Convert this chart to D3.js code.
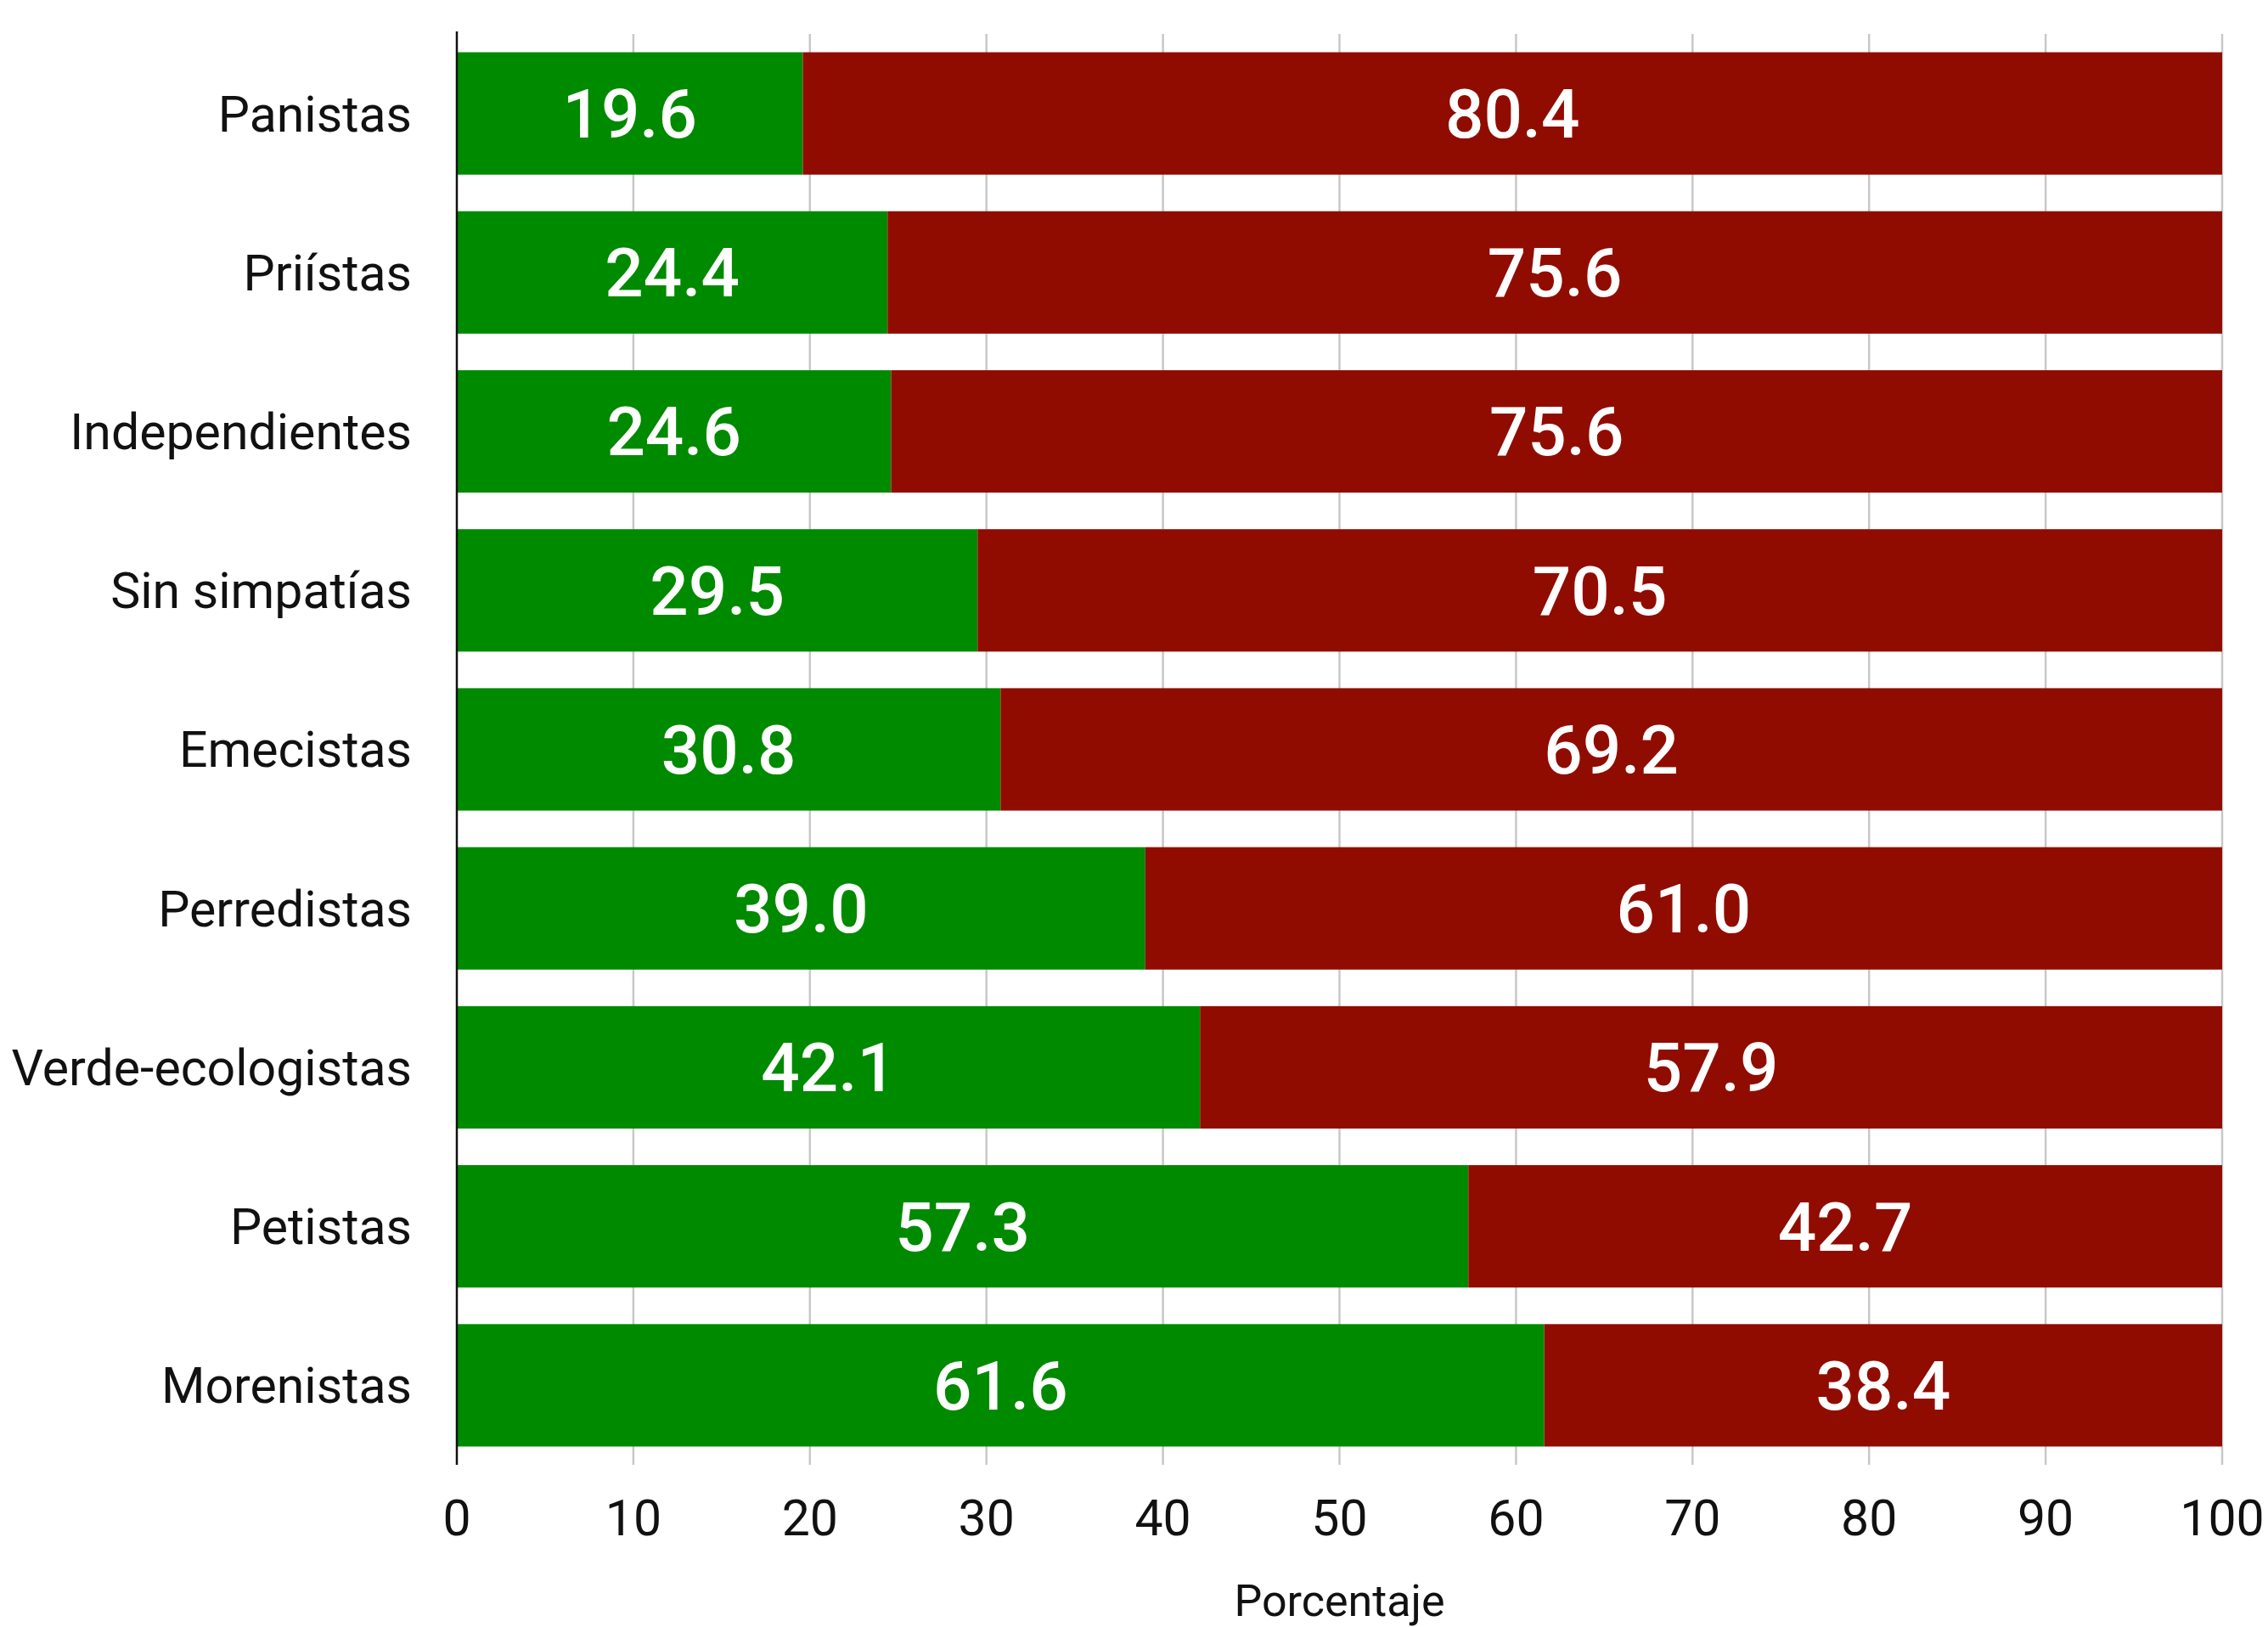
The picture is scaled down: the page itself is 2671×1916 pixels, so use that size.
<!DOCTYPE html>
<html>
<head>
<meta charset="utf-8">
<script src="https://cdn.jsdelivr.net/npm/d3@7"></script>
<style>
  html, body { margin: 0; padding: 0; background: #fff; }
  svg { display: block; font-family: Roboto, "Noto Sans", sans-serif; }
</style>
</head>
<body>
<svg id="chart" width="2671" height="1916"></svg>
<script>
const categories = ["Panistas", "Priístas", "Independientes", "Sin simpatías", "Emecistas",
  "Perredistas", "Verde-ecologistas", "Petistas", "Morenistas"];
const greenValues = [19.6, 24.4, 24.6, 29.5, 30.8, 39.0, 42.1, 57.3, 61.6];
const redValues = [80.4, 75.6, 75.6, 70.5, 69.2, 61.0, 57.9, 42.7, 38.4];
const xTicks = [0, 10, 20, 30, 40, 50, 60, 70, 80, 90, 100];
const xTitle = "Porcentaje";

(function () {
const svg = d3.select("#chart");
const mLeft = 538, mRight = 2617, mTop = 40, mBottom = 1725;

const x = d3.scaleLinear().domain([0, 100]).range([mLeft, mRight]).clamp(true);
const y = d3.scaleBand().domain(categories).range([mTop, mBottom]).paddingInner(0.23).paddingOuter(0.115);

// gridlines
svg.append("g").selectAll("line").data(xTicks.slice(1)).join("line")
  .attr("x1", d => x(d)).attr("x2", d => x(d))
  .attr("y1", mTop).attr("y2", mBottom)
  .attr("stroke", "#c8c8c8").attr("stroke-width", 2.5);

const rows = categories.map((c, i) => ({ c, g: greenValues[i], r: redValues[i] }));

// green bars
svg.append("g").selectAll("rect").data(rows).join("rect")
  .attr("x", x(0)).attr("y", d => y(d.c))
  .attr("width", d => x(d.g) - x(0)).attr("height", y.bandwidth())
  .attr("fill", "#008a00");

// red bars
svg.append("g").selectAll("rect").data(rows).join("rect")
  .attr("x", d => x(d.g)).attr("y", d => y(d.c))
  .attr("width", d => x(d.g + d.r) - x(d.g)).attr("height", y.bandwidth())
  .attr("fill", "#910c00");

// value labels
const valSize = 80, capV = 0.711 * valSize;
svg.append("g").selectAll("text").data(rows).join("text")
  .attr("x", d => (x(0) + x(d.g)) / 2)
  .attr("y", d => y(d.c) + y.bandwidth() / 2 + capV / 2)
  .attr("text-anchor", "middle").attr("fill", "#fff")
  .attr("font-size", valSize).attr("font-weight", 500)
  .text(d => d.g.toFixed(1));
svg.append("g").selectAll("text").data(rows).join("text")
  .attr("x", d => (x(d.g) + x(d.g + d.r)) / 2)
  .attr("y", d => y(d.c) + y.bandwidth() / 2 + capV / 2)
  .attr("text-anchor", "middle").attr("fill", "#fff")
  .attr("font-size", valSize).attr("font-weight", 500)
  .text(d => d.r.toFixed(1));

// left axis line
svg.append("line").attr("x1", mLeft).attr("x2", mLeft).attr("y1", mTop - 3).attr("y2", mBottom)
  .attr("stroke", "#111").attr("stroke-width", 2.5);

// category labels
const catSize = 59, capC = 0.711 * catSize;
svg.append("g").selectAll("text").data(categories).join("text")
  .attr("x", 485)
  .attr("y", d => y(d) + y.bandwidth() / 2 + capC / 2)
  .attr("text-anchor", "end").attr("fill", "#111")
  .attr("font-size", catSize)
  .text(d => d);

// x tick labels
svg.append("g").selectAll("text").data(xTicks).join("text")
  .attr("x", d => x(d)).attr("y", 1808)
  .attr("text-anchor", "middle").attr("fill", "#111")
  .attr("font-size", 59)
  .text(d => d);

// x title
svg.append("text").attr("x", (mLeft + mRight) / 2).attr("y", 1903)
  .attr("text-anchor", "middle").attr("fill", "#111")
  .attr("font-size", 52).text(xTitle);
})();
</script>
</body>
</html>
